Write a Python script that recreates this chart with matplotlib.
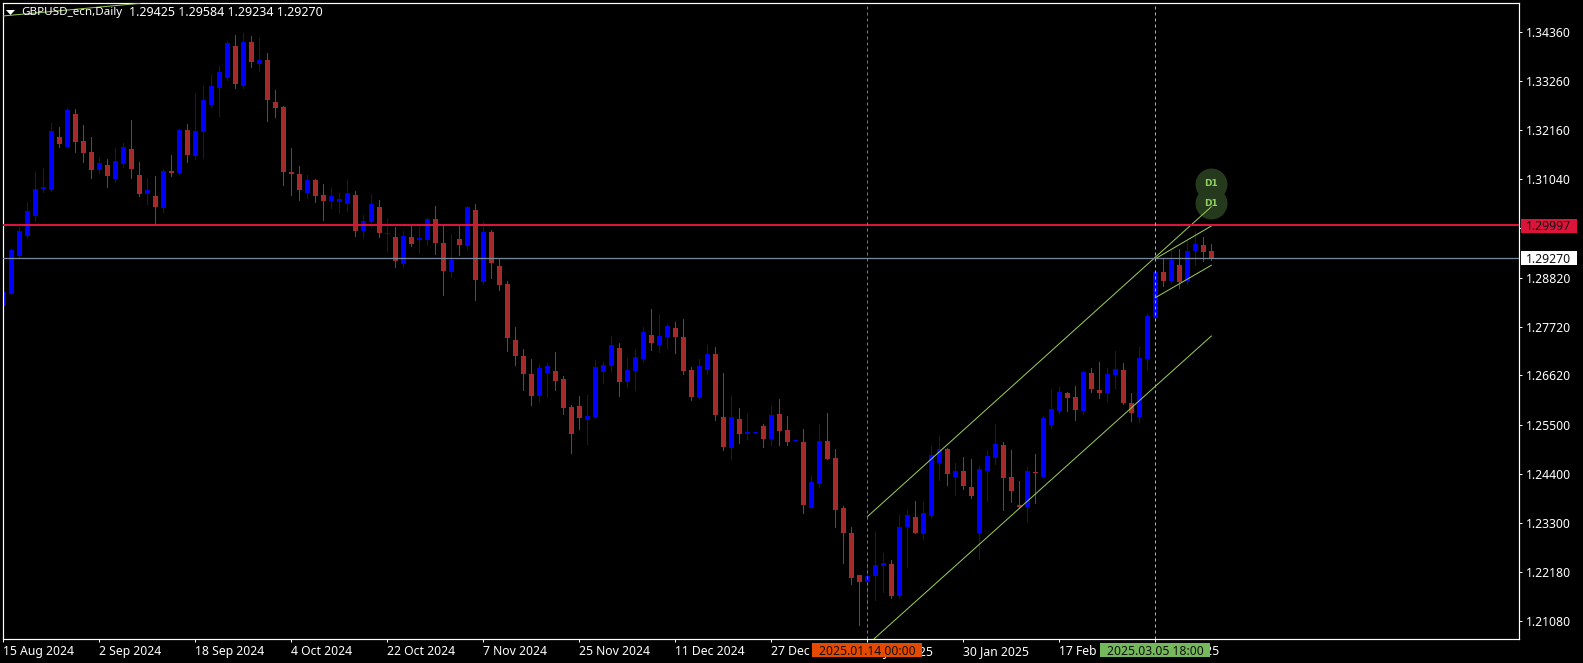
import matplotlib
matplotlib.use('Agg')
import matplotlib.pyplot as plt
from matplotlib.patches import Rectangle, Polygon

# Daily GBPUSD candles, oldest first
opens = [
    1.28186, 1.28456, 1.29314, 1.29765, 1.30216, 1.30818, 1.30803, 1.31998, 1.31773, 1.32517,
    1.31908, 1.3166, 1.31254, 1.31367, 1.31051, 1.31389, 1.31728, 1.31141, 1.30712, 1.30667,
    1.30397, 1.31231, 1.31186, 1.32156, 1.3157, 1.32111, 1.3272, 1.33104, 1.33329, 1.34051,
    1.33149, 1.34141, 1.33645, 1.33735, 1.32788, 1.32675, 1.31209, 1.31164, 1.30735, 1.31028,
    1.3069, 1.30555, 1.30532, 1.30487, 1.3069, 1.29878, 1.30081, 1.30419, 1.29818, 1.29742,
    1.29133, 1.29742, 1.29675, 1.29675, 1.30149, 1.29607, 1.28953, 1.29697, 1.29539, 1.30352,
    1.28727, 1.29855, 1.29088, 1.28682, 1.27419, 1.27058, 1.26652, 1.26155, 1.26674, 1.26719,
    1.26539, 1.25907, 1.2593, 1.25614, 1.25681, 1.26696, 1.26831, 1.27238, 1.2647, 1.26719,
    1.26989, 1.27531, 1.27305, 1.27486, 1.27689, 1.27486, 1.26741, 1.2611, 1.26741, 1.27102,
    1.25681, 1.24982, 1.25636, 1.25297, 1.2532, 1.25478, 1.25185, 1.25749, 1.25388, 1.25139,
    1.25117, 1.23628, 1.24169, 1.25139, 1.24756, 1.23628, 1.23064, 1.22116, 1.21958, 1.22094,
    1.22319, 1.22365, 1.21643, 1.23199, 1.23425, 1.23041, 1.23447, 1.24643, 1.24959, 1.24327,
    1.24463, 1.24102, 1.23064, 1.24463, 1.24756, 1.25049, 1.24327, 1.23696, 1.2365, 1.2444,
    1.24327, 1.255, 1.25816, 1.26222, 1.26132, 1.25816, 1.26674, 1.2629, 1.26222, 1.26628,
    1.26741, 1.25997, 1.25681, 1.2699, 1.27915, 1.28952, 1.28749, 1.2911, 1.28749, 1.29426,
    1.29561, 1.29425,
]
highs = [
    1.28735, 1.29464, 1.2996, 1.30539, 1.31209, 1.31299, 1.32314, 1.32224, 1.32653, 1.3263,
    1.32269, 1.31998, 1.31547, 1.31502, 1.3175, 1.31863, 1.32382, 1.31434, 1.31081, 1.31118,
    1.31276, 1.31592, 1.32179, 1.32292, 1.32991, 1.33149, 1.33397, 1.336, 1.34164, 1.34299,
    1.34345, 1.34277, 1.34232, 1.33893, 1.33059, 1.32698, 1.3175, 1.31344, 1.31141, 1.31051,
    1.30938, 1.30848, 1.30735, 1.31028, 1.3078, 1.30239, 1.30713, 1.30577, 1.30149, 1.29968,
    1.29878, 1.30013, 1.30013, 1.30171, 1.30442, 1.29991, 1.2981, 1.29991, 1.30442, 1.30487,
    1.30103, 1.299, 1.29269, 1.2875, 1.27712, 1.27216, 1.2699, 1.26877, 1.269, 1.27148,
    1.26607, 1.25952, 1.26155, 1.26178, 1.26967, 1.26922, 1.27508, 1.2735, 1.27012, 1.27215,
    1.27711, 1.28117, 1.28005, 1.27779, 1.27824, 1.27892, 1.26809, 1.26989, 1.27305, 1.2726,
    1.26674, 1.26155, 1.25884, 1.25771, 1.25342, 1.25523, 1.25929, 1.26087, 1.25703, 1.25162,
    1.2541, 1.2435, 1.25523, 1.25771, 1.24959, 1.23673, 1.23199, 1.22116, 1.225, 1.23086,
    1.22613, 1.22455, 1.2347, 1.23583, 1.23786, 1.23763, 1.25027, 1.25252, 1.24982, 1.24643,
    1.24778, 1.24733, 1.24575, 1.24936, 1.25523, 1.25117, 1.24936, 1.24237, 1.24553, 1.24846,
    1.25703, 1.26313, 1.26358, 1.26245, 1.2638, 1.26719, 1.26786, 1.26922, 1.26786, 1.2717,
    1.26899, 1.26222, 1.2726, 1.28005, 1.28952, 1.29246, 1.29449, 1.29471, 1.29652, 1.29877,
    1.29742, 1.29584,
]
lows = [
    1.27983, 1.28456, 1.29284, 1.2972, 1.30103, 1.30757, 1.3078, 1.31773, 1.31773, 1.3166,
    1.31434, 1.31073, 1.31186, 1.3087, 1.30983, 1.31321, 1.31073, 1.30667, 1.30487, 1.30036,
    1.30306, 1.31118, 1.31164, 1.31434, 1.31502, 1.31525, 1.32675, 1.32472, 1.33284, 1.33104,
    1.33104, 1.33577, 1.33487, 1.32359, 1.32449, 1.30915, 1.3069, 1.30577, 1.30622, 1.30532,
    1.30126, 1.30397, 1.30284, 1.30329, 1.29765, 1.2972, 1.29968, 1.29742, 1.29427, 1.29066,
    1.29066, 1.29539, 1.29382, 1.29562, 1.29359, 1.28434, 1.2884, 1.29336, 1.29472, 1.28321,
    1.28682, 1.28818, 1.28547, 1.27171, 1.26855, 1.26291, 1.25952, 1.26043, 1.26133, 1.26291,
    1.25749, 1.2487, 1.25411, 1.25073, 1.25658, 1.26448, 1.26719, 1.26155, 1.26358, 1.2629,
    1.26922, 1.27192, 1.27147, 1.27238, 1.27125, 1.26651, 1.26064, 1.26087, 1.26651, 1.25613,
    1.24936, 1.24733, 1.25094, 1.25185, 1.2532, 1.25004, 1.25049, 1.25049, 1.25049, 1.25139,
    1.23515, 1.23628, 1.24102, 1.24733, 1.23199, 1.22387, 1.21913, 1.20988, 1.21372, 1.21552,
    1.21733, 1.21598, 1.21598, 1.22297, 1.23064, 1.22929, 1.23425, 1.2426, 1.24147, 1.23921,
    1.24057, 1.23854, 1.22477, 1.23786, 1.24621, 1.23583, 1.23763, 1.23628, 1.23312, 1.23741,
    1.24327, 1.25433, 1.25771, 1.25816, 1.25613, 1.25749, 1.26245, 1.2611, 1.26042, 1.26335,
    1.25974, 1.25591, 1.25568, 1.26764, 1.27869, 1.28636, 1.28704, 1.28591, 1.28682, 1.2911,
    1.292, 1.29234,
]
closes = [
    1.28501, 1.29449, 1.29878, 1.30329, 1.30825, 1.3087, 1.32134, 1.3184, 1.32607, 1.31885,
    1.31637, 1.31254, 1.31412, 1.31118, 1.31457, 1.31773, 1.31276, 1.30712, 1.30803, 1.30419,
    1.31231, 1.31186, 1.32156, 1.31592, 1.32134, 1.32833, 1.33149, 1.33465, 1.34119, 1.33194,
    1.34141, 1.3369, 1.33735, 1.32833, 1.32653, 1.31209, 1.31164, 1.30803, 1.31028, 1.30667,
    1.30555, 1.30667, 1.306, 1.30735, 1.29878, 1.30103, 1.30487, 1.29833, 1.29833, 1.29201,
    1.29765, 1.29585, 1.2972, 1.30149, 1.29607, 1.28975, 1.29224, 1.29562, 1.30419, 1.28772,
    1.29855, 1.29156, 1.2866, 1.27464, 1.27058, 1.26652, 1.26155, 1.26787, 1.26832, 1.26494,
    1.25885, 1.25298, 1.25659, 1.25704, 1.26809, 1.26854, 1.27305, 1.2647, 1.26741, 1.27034,
    1.27598, 1.2735, 1.27508, 1.27734, 1.27486, 1.26719, 1.26132, 1.26831, 1.27102, 1.25726,
    1.25004, 1.25681, 1.25297, 1.25342, 1.25342, 1.25185, 1.25726, 1.25365, 1.25117, 1.25162,
    1.23696, 1.24214, 1.25139, 1.24733, 1.23583, 1.23064, 1.22049, 1.21958, 1.22094, 1.22342,
    1.22387, 1.21643, 1.23199, 1.2347, 1.23064, 1.23515, 1.24824, 1.24959, 1.24395, 1.24463,
    1.24124, 1.23891, 1.24508, 1.24801, 1.25072, 1.24305, 1.24011, 1.2365, 1.24463, 1.24418,
    1.25658, 1.25861, 1.26245, 1.2611, 1.25839, 1.26696, 1.26313, 1.26222, 1.26651, 1.26764,
    1.25997, 1.25771, 1.27012, 1.2796, 1.28952, 1.28749, 1.29223, 1.28727, 1.29426, 1.29584,
    1.29403, 1.2927,
]

# Axis labels, the date axis has a label every 12 bars
date_labels = ['15 Aug 2024', '2 Sep 2024', '18 Sep 2024', '4 Oct 2024', '22 Oct 2024',
               '7 Nov 2024', '25 Nov 2024', '11 Dec 2024', '27 Dec 2024', '14 Jan 2025',
               '30 Jan 2025', '17 Feb 2025', '5 Mar 2025']
price_ticks = [1.34360, 1.33260, 1.32160, 1.31040, 1.29940, 1.28820, 1.27720,
               1.26620, 1.25500, 1.24400, 1.23300, 1.22180, 1.21080]

# Levels, cursors and channel lines, as (bar, price)
red_level = 1.30017
red_tag = 1.29997
last_price = 1.29270
orange_bar = 108
green_bar = 144
orange_label = '2025.01.14 00:00'
green_label = '2025.03.05 18:00'
channels = [
    ([108, 151], [1.23432, 1.30425]),
    ([108, 151], [1.2054, 1.27508]),
    ([144, 151], [1.29252, 1.2999]),
    ([144, 151], [1.28373, 1.29104]),
    ([-0.08, 17.08], [1.34728, 1.35014]),
]
d1_bars = [151, 151]
d1_prices = [1.30938, 1.30502]

plt.rcParams['font.family'] = 'Noto Sans'
BLUE = '#0000ff'
BROWN = '#a52a2a'
LIME = '#9acd5a'
W, H = 1583, 663
PX = 0.72  # one pixel in points at dpi 100
FS = 8.8

fig = plt.figure(figsize=(W / 100, H / 100), dpi=100, facecolor='black')
ax = fig.add_axes([2.7 / W, 1 - 639.3 / H, 1516.3 / W, 636.6 / H], facecolor='black')
ax.set_xlim(-0.079, 189.46)
ax.set_ylim(1.20666, 1.35028)

# Candles
bars = range(len(opens))
colors = [BLUE if c >= o else BROWN for o, c in zip(opens, closes)]
ax.vlines(bars, lows, highs, colors=colors, linewidth=PX, antialiased=False, zorder=2)
bottoms = [min(o, c) for o, c in zip(opens, closes)]
heights = [max(abs(c - o), 0.00024) for o, c in zip(opens, closes)]
ax.bar(bars, heights, bottom=bottoms, width=5 / 8, color=colors, linewidth=0, zorder=2.1)

# D1 markers with the channels on top of them
ax.scatter(d1_bars, d1_prices, s=(32 * PX) ** 2, color='#25391c', linewidth=0, zorder=3)
for b, p in zip(d1_bars, d1_prices):
    ax.text(b, p, 'D1', color='#8fd060', fontsize=6.5, fontweight='bold', family='DejaVu Sans',
            ha='center', va='center', zorder=5)
for cx, cy in channels:
    ax.plot(cx, cy, color=LIME, linewidth=PX, zorder=4)

# Horizontal levels and dashed cursors
ax.axhline(red_level, color='#dc143c', linewidth=2 * PX, zorder=4)
ax.axhline(last_price, color='#778899', linewidth=1.3 * PX, zorder=4)
ax.axvline(orange_bar, color='#e8571a', linewidth=PX, linestyle=(0, (3, 3)), zorder=4)
ax.axvline(green_bar, color='#9acd5a', linewidth=PX, linestyle=(0, (3, 3)), zorder=4)

# Axes in the terminal style
for spine in ax.spines.values():
    spine.set_color('white')
    spine.set_linewidth(PX * 1.2)
ax.yaxis.tick_right()
ax.set_yticks(price_ticks, [f'{p:.5f}' for p in price_ticks])
ax.set_xticks(range(0, 145, 12), date_labels, ha='left')
ax.tick_params(axis='both', colors='white', labelsize=FS, length=3 * PX, width=PX)
ax.tick_params(axis='y', pad=3)
ax.tick_params(axis='x', pad=1.8)

# Price tags on the right side
ytrans = ax.get_yaxis_transform()
for price, face in [(red_tag, '#dc143c'), (last_price, 'white')]:
    ax.add_patch(Rectangle((1.0012, price - 0.00155), 0.0372, 0.0031, transform=ytrans,
                           facecolor=face, linewidth=0, clip_on=False, zorder=9))
    ax.text(1.0198, price - 0.00025, f'{price:.5f}', transform=ytrans, color='#101010', fontsize=FS,
            ha='center', va='center', clip_on=False, zorder=10)

# Date tags below the cursors
xtrans = ax.get_xaxis_transform()
for bar, text, face in [(orange_bar, orange_label, '#e64a00'), (green_bar, green_label, '#76b85c')]:
    ax.add_patch(Rectangle((bar - 6.875, -0.02733), 13.75, 0.02105, transform=xtrans,
                           facecolor=face, linewidth=0, clip_on=False, zorder=9))
    ax.text(bar, -0.0192, text, transform=xtrans, color='#101010', fontsize=FS,
            ha='center', va='center', clip_on=False, zorder=10)

# Header line
fig.add_artist(Polygon([[6 / W, 1 - 10 / H], [15 / W, 1 - 10 / H], [10.5 / W, 1 - 15 / H]],
                       closed=True, facecolor='white', edgecolor='none',
                       transform=fig.transFigure))
fig.text(21.5 / W, 1 - 12.5 / H, 'GBPUSD_ecn,Daily', color='white', fontsize=8.4, va='center')
fig.text(129 / W, 1 - 12.5 / H, '1.29425 1.29584 1.29234 1.29270', color='white', fontsize=9, va='center')

fig.savefig('out.png', dpi=100, facecolor='black')
